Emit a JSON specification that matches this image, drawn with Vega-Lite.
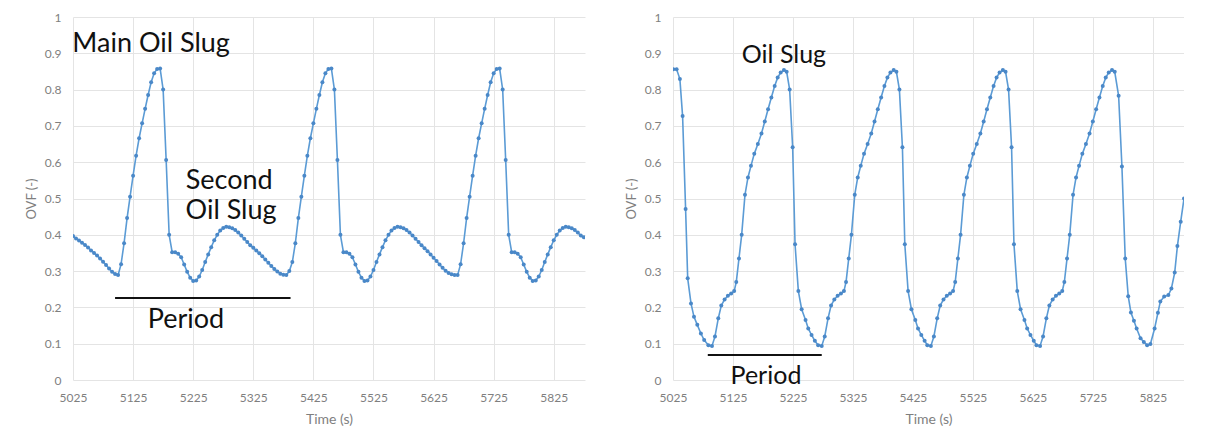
{
  "$schema": "https://vega.github.io/schema/vega-lite/v6.json",
  "background": "white",
  "padding": {"left": 25, "top": 11, "right": 0, "bottom": 0},
  "config": {
    "view": {"stroke": null},
    "concat": {"spacing": 40},
    "axis": {
      "grid": true, "gridColor": "#e4e4e4", "gridWidth": 1,
      "domain": false, "ticks": false, "labelOverlap": false, "labelFlush": false,
      "labelColor": "#7f7f7f", "labelFont": "Lato", "labelFontSize": 12,
      "titleColor": "#7f7f7f", "titleFont": "Lato", "titleFontWeight": "normal", "titleFontSize": 13
    },
    "axisX": {"labelPadding": 12, "titlePadding": 9, "titleFontSize": 14},
    "axisY": {"labelPadding": 12, "titlePadding": 6}
  },
  "datasets": {
    "left": [
      {"t":5025,"v":0.397},{"t":5030,"v":0.390},{"t":5035,"v":0.384},{"t":5040,"v":0.378},{"t":5045,"v":0.372},{"t":5050,"v":0.365},{"t":5055,"v":0.357},{"t":5060,"v":0.350},{"t":5065,"v":0.343},{"t":5070,"v":0.335},{"t":5075,"v":0.326},{"t":5080,"v":0.317},{"t":5085,"v":0.307},{"t":5090,"v":0.298},{"t":5095,"v":0.292},
      {"t":5100,"v":0.289},{"t":5105,"v":0.319},{"t":5110,"v":0.377},{"t":5115,"v":0.446},{"t":5120,"v":0.505},{"t":5125,"v":0.563},{"t":5130,"v":0.618},{"t":5135,"v":0.666},{"t":5140,"v":0.707},{"t":5145,"v":0.747},{"t":5150,"v":0.785},{"t":5155,"v":0.820},{"t":5160,"v":0.845},{"t":5165,"v":0.857},{"t":5170,"v":0.858},{"t":5175,"v":0.800},{"t":5180,"v":0.606},{"t":5185,"v":0.400},{"t":5190,"v":0.352},{"t":5195,"v":0.352},{"t":5200,"v":0.348},{"t":5205,"v":0.338},{"t":5210,"v":0.318},{"t":5215,"v":0.298},{"t":5220,"v":0.282},{"t":5225,"v":0.273},{"t":5230,"v":0.274},{"t":5235,"v":0.285},{"t":5240,"v":0.303},{"t":5245,"v":0.325},{"t":5250,"v":0.346},{"t":5255,"v":0.366},{"t":5260,"v":0.385},{"t":5265,"v":0.400},{"t":5270,"v":0.412},{"t":5275,"v":0.419},{"t":5280,"v":0.422},{"t":5285,"v":0.421},{"t":5290,"v":0.418},{"t":5295,"v":0.413},{"t":5300,"v":0.406},{"t":5305,"v":0.398},{"t":5310,"v":0.389},{"t":5315,"v":0.380},{"t":5320,"v":0.371},{"t":5325,"v":0.364},{"t":5330,"v":0.357},{"t":5335,"v":0.349},{"t":5340,"v":0.341},{"t":5345,"v":0.332},{"t":5350,"v":0.323},{"t":5355,"v":0.314},{"t":5360,"v":0.306},{"t":5365,"v":0.299},{"t":5370,"v":0.293},{"t":5375,"v":0.290},{"t":5380,"v":0.289},
      {"t":5385,"v":0.300},{"t":5390,"v":0.325},{"t":5395,"v":0.377},{"t":5400,"v":0.446},{"t":5405,"v":0.505},{"t":5410,"v":0.563},{"t":5415,"v":0.618},{"t":5420,"v":0.666},{"t":5425,"v":0.707},{"t":5430,"v":0.747},{"t":5435,"v":0.785},{"t":5440,"v":0.820},{"t":5445,"v":0.845},{"t":5450,"v":0.857},{"t":5455,"v":0.858},{"t":5460,"v":0.800},{"t":5465,"v":0.606},{"t":5470,"v":0.400},{"t":5475,"v":0.352},{"t":5480,"v":0.352},{"t":5485,"v":0.348},{"t":5490,"v":0.338},{"t":5495,"v":0.318},{"t":5500,"v":0.298},{"t":5505,"v":0.282},{"t":5510,"v":0.273},{"t":5515,"v":0.274},{"t":5520,"v":0.285},{"t":5525,"v":0.303},{"t":5530,"v":0.325},{"t":5535,"v":0.346},{"t":5540,"v":0.366},{"t":5545,"v":0.385},{"t":5550,"v":0.400},{"t":5555,"v":0.412},{"t":5560,"v":0.419},{"t":5565,"v":0.422},{"t":5570,"v":0.421},{"t":5575,"v":0.418},{"t":5580,"v":0.413},{"t":5585,"v":0.406},{"t":5590,"v":0.398},{"t":5595,"v":0.389},{"t":5600,"v":0.380},{"t":5605,"v":0.371},{"t":5610,"v":0.363},{"t":5615,"v":0.355},{"t":5620,"v":0.346},{"t":5625,"v":0.337},{"t":5630,"v":0.328},{"t":5635,"v":0.318},{"t":5640,"v":0.309},{"t":5645,"v":0.301},{"t":5650,"v":0.295},{"t":5655,"v":0.291},{"t":5660,"v":0.289},
      {"t":5665,"v":0.289},{"t":5670,"v":0.319},{"t":5675,"v":0.377},{"t":5680,"v":0.446},{"t":5685,"v":0.505},{"t":5690,"v":0.563},{"t":5695,"v":0.618},{"t":5700,"v":0.666},{"t":5705,"v":0.707},{"t":5710,"v":0.747},{"t":5715,"v":0.785},{"t":5720,"v":0.820},{"t":5725,"v":0.845},{"t":5730,"v":0.857},{"t":5735,"v":0.858},{"t":5740,"v":0.800},{"t":5745,"v":0.606},{"t":5750,"v":0.400},{"t":5755,"v":0.352},{"t":5760,"v":0.352},{"t":5765,"v":0.348},{"t":5770,"v":0.338},{"t":5775,"v":0.318},{"t":5780,"v":0.298},{"t":5785,"v":0.282},{"t":5790,"v":0.273},{"t":5795,"v":0.274},{"t":5800,"v":0.285},{"t":5805,"v":0.303},{"t":5810,"v":0.325},{"t":5815,"v":0.346},{"t":5820,"v":0.366},{"t":5825,"v":0.385},{"t":5830,"v":0.400},{"t":5835,"v":0.412},{"t":5840,"v":0.419},{"t":5845,"v":0.422},{"t":5850,"v":0.421},{"t":5855,"v":0.418},{"t":5860,"v":0.413},{"t":5865,"v":0.406},{"t":5870,"v":0.398},{"t":5875,"v":0.393}
    ],
    "right": [
      {"t":5025.5,"v":0.856},{"t":5031,"v":0.856},{"t":5036.5,"v":0.829},{"t":5041,"v":0.727},{"t":5046,"v":0.471},{"t":5049.5,"v":0.28},{"t":5055,"v":0.211},{"t":5060,"v":0.174},{"t":5065.5,"v":0.152},{"t":5071.5,"v":0.128},{"t":5077,"v":0.11},{"t":5084,"v":0.096},
      {"t":5090,"v":0.094},{"t":5095,"v":0.12},{"t":5100.5,"v":0.17},{"t":5105.5,"v":0.205},{"t":5111,"v":0.222},{"t":5116.5,"v":0.232},{"t":5122,"v":0.238},{"t":5127,"v":0.245},{"t":5130.5,"v":0.27},{"t":5135,"v":0.335},{"t":5139.5,"v":0.40},{"t":5145,"v":0.51},{"t":5150,"v":0.558},{"t":5155,"v":0.59},{"t":5160.5,"v":0.623},{"t":5166.5,"v":0.65},{"t":5172.5,"v":0.679},{"t":5178,"v":0.712},{"t":5183.5,"v":0.746},{"t":5189,"v":0.778},{"t":5194.5,"v":0.81},{"t":5199.5,"v":0.833},{"t":5204.5,"v":0.847},{"t":5210,"v":0.854},{"t":5214.5,"v":0.849},{"t":5219.5,"v":0.80},{"t":5224.5,"v":0.641},{"t":5228.5,"v":0.374},{"t":5234,"v":0.245},{"t":5239.5,"v":0.195},{"t":5246,"v":0.165},{"t":5250.5,"v":0.142},{"t":5256,"v":0.124},{"t":5261.5,"v":0.108},
      {"t":5267,"v":0.096},{"t":5273,"v":0.094},{"t":5278,"v":0.12},{"t":5283.5,"v":0.17},{"t":5288.5,"v":0.205},{"t":5294,"v":0.222},{"t":5299.5,"v":0.232},{"t":5305,"v":0.238},{"t":5310,"v":0.245},{"t":5313.5,"v":0.27},{"t":5318,"v":0.335},{"t":5322.5,"v":0.40},{"t":5328,"v":0.51},{"t":5333,"v":0.558},{"t":5338,"v":0.59},{"t":5343.5,"v":0.623},{"t":5349.5,"v":0.65},{"t":5355.5,"v":0.679},{"t":5361,"v":0.712},{"t":5366.5,"v":0.746},{"t":5372,"v":0.778},{"t":5377.5,"v":0.81},{"t":5382.5,"v":0.833},{"t":5387.5,"v":0.847},{"t":5393,"v":0.854},{"t":5397.5,"v":0.849},{"t":5402.5,"v":0.80},{"t":5407.5,"v":0.641},{"t":5411.5,"v":0.374},{"t":5417,"v":0.245},{"t":5422.5,"v":0.195},{"t":5429,"v":0.165},{"t":5433.5,"v":0.142},{"t":5439,"v":0.124},{"t":5444.5,"v":0.108},
      {"t":5449,"v":0.096},{"t":5455,"v":0.094},{"t":5460,"v":0.12},{"t":5465.5,"v":0.17},{"t":5470.5,"v":0.205},{"t":5476,"v":0.222},{"t":5481.5,"v":0.232},{"t":5487,"v":0.238},{"t":5492,"v":0.245},{"t":5495.5,"v":0.27},{"t":5500,"v":0.335},{"t":5504.5,"v":0.40},{"t":5510,"v":0.51},{"t":5515,"v":0.558},{"t":5520,"v":0.59},{"t":5525.5,"v":0.623},{"t":5531.5,"v":0.65},{"t":5537.5,"v":0.679},{"t":5543,"v":0.712},{"t":5548.5,"v":0.746},{"t":5554,"v":0.778},{"t":5559.5,"v":0.81},{"t":5564.5,"v":0.833},{"t":5569.5,"v":0.847},{"t":5575,"v":0.854},{"t":5579.5,"v":0.849},{"t":5584.5,"v":0.80},{"t":5589.5,"v":0.641},{"t":5593.5,"v":0.374},{"t":5599,"v":0.245},{"t":5604.5,"v":0.195},{"t":5611,"v":0.165},{"t":5615.5,"v":0.142},{"t":5621,"v":0.124},{"t":5626.5,"v":0.108},
      {"t":5631,"v":0.096},{"t":5637,"v":0.094},{"t":5642,"v":0.12},{"t":5647.5,"v":0.17},{"t":5652.5,"v":0.205},{"t":5658,"v":0.222},{"t":5663.5,"v":0.232},{"t":5669,"v":0.238},{"t":5674,"v":0.245},{"t":5677.5,"v":0.27},{"t":5682,"v":0.335},{"t":5686.5,"v":0.40},{"t":5692,"v":0.51},{"t":5697,"v":0.558},{"t":5702,"v":0.59},{"t":5707.5,"v":0.623},{"t":5713.5,"v":0.65},{"t":5719.5,"v":0.679},{"t":5725,"v":0.712},{"t":5730.5,"v":0.746},{"t":5736,"v":0.778},{"t":5741.5,"v":0.81},{"t":5746.5,"v":0.833},{"t":5751.5,"v":0.847},{"t":5757,"v":0.854},{"t":5761.5,"v":0.849},{"t":5768,"v":0.783},{"t":5773.5,"v":0.588},{"t":5779,"v":0.335},{"t":5784,"v":0.231},{"t":5788.5,"v":0.186},{"t":5793.5,"v":0.163},{"t":5798,"v":0.142},{"t":5804.5,"v":0.115},{"t":5810,"v":0.105},{"t":5815.5,"v":0.096},
      {"t":5821,"v":0.099},{"t":5828,"v":0.142},{"t":5833.5,"v":0.185},{"t":5837.5,"v":0.216},{"t":5844,"v":0.23},{"t":5851,"v":0.234},{"t":5856,"v":0.252},{"t":5861.5,"v":0.296},{"t":5866,"v":0.369},{"t":5871.5,"v":0.436},{"t":5877,"v":0.50}
    ],
    "annL": [
      {"t":5155,"v":0.904,"label":"Main Oil Slug"},
      {"t":5285,"v":0.526,"label":"Second"},
      {"t":5288,"v":0.4435,"label":"Oil Slug"},
      {"t":5213,"v":0.143,"label":"Period"}
    ],
    "perL": [{"t":5095,"t2":5387,"v":0.226}],
    "annR": [
      {"t":5210,"v":0.873,"label":"Oil Slug"},
      {"t":5180,"v":-0.01,"label":"Period"}
    ],
    "perR": [{"t":5083,"t2":5273,"v":0.069}]
  },
  "hconcat": [
    {
      "width": 512, "height": 363,
      "layer": [
        {
          "data": {"name": "left"},
          "mark": {"type": "line", "color": "#5b9bd5", "strokeWidth": 1.6, "clip": true,
                   "point": {"filled": true, "size": 16, "color": "#4a88c8"}},
          "encoding": {
            "x": {"field": "t", "type": "quantitative", "title": "Time (s)",
                  "scale": {"domain": [5025, 5877], "nice": false, "zero": false},
                  "axis": {"values": [5025,5125,5225,5325,5425,5525,5625,5725,5825], "format": "d", "labelOverlap": false}},
            "y": {"field": "v", "type": "quantitative", "title": "OVF (-)",
                  "scale": {"domain": [0, 1], "nice": false},
                  "axis": {"values": [0,0.1,0.2,0.3,0.4,0.5,0.6,0.7,0.8,0.9,1], "labelExpr": "datum.value == 0 ? '0' : datum.value == 1 ? '1' : format(datum.value, '.1f')", "labelOverlap": false, "tickCount": 11}}
          }
        },
        {
          "data": {"name": "perL"},
          "mark": {"type": "rule", "color": "#111111", "strokeWidth": 2},
          "encoding": {
            "x": {"field": "t", "type": "quantitative", "title": "Time (s)"},
            "x2": {"field": "t2"},
            "y": {"field": "v", "type": "quantitative", "title": "OVF (-)"}
          }
        },
        {
          "data": {"name": "annL"},
          "mark": {"type": "text", "font": "Lato", "fontSize": 27, "color": "#111111", "align": "center", "baseline": "alphabetic"},
          "encoding": {
            "x": {"field": "t", "type": "quantitative", "title": "Time (s)"},
            "y": {"field": "v", "type": "quantitative", "title": "OVF (-)"},
            "text": {"field": "label"}
          }
        }
      ]
    },
    {
      "width": 511, "height": 363,
      "layer": [
        {
          "data": {"name": "right"},
          "mark": {"type": "line", "color": "#5b9bd5", "strokeWidth": 1.6, "clip": true,
                   "point": {"filled": true, "size": 16, "color": "#4a88c8"}},
          "encoding": {
            "x": {"field": "t", "type": "quantitative", "title": "Time (s)",
                  "scale": {"domain": [5025, 5877], "nice": false, "zero": false},
                  "axis": {"values": [5025,5125,5225,5325,5425,5525,5625,5725,5825], "format": "d", "labelOverlap": false}},
            "y": {"field": "v", "type": "quantitative", "title": "OVF (-)",
                  "scale": {"domain": [0, 1], "nice": false},
                  "axis": {"values": [0,0.1,0.2,0.3,0.4,0.5,0.6,0.7,0.8,0.9,1], "labelExpr": "datum.value == 0 ? '0' : datum.value == 1 ? '1' : format(datum.value, '.1f')", "labelOverlap": false, "tickCount": 11}}
          }
        },
        {
          "data": {"name": "perR"},
          "mark": {"type": "rule", "color": "#111111", "strokeWidth": 2},
          "encoding": {
            "x": {"field": "t", "type": "quantitative", "title": "Time (s)"},
            "x2": {"field": "t2"},
            "y": {"field": "v", "type": "quantitative", "title": "OVF (-)"}
          }
        },
        {
          "data": {"name": "annR"},
          "mark": {"type": "text", "font": "Lato", "fontSize": 25, "color": "#111111", "align": "center", "baseline": "alphabetic"},
          "encoding": {
            "x": {"field": "t", "type": "quantitative", "title": "Time (s)"},
            "y": {"field": "v", "type": "quantitative", "title": "OVF (-)"},
            "text": {"field": "label"}
          }
        }
      ]
    }
  ]
}
